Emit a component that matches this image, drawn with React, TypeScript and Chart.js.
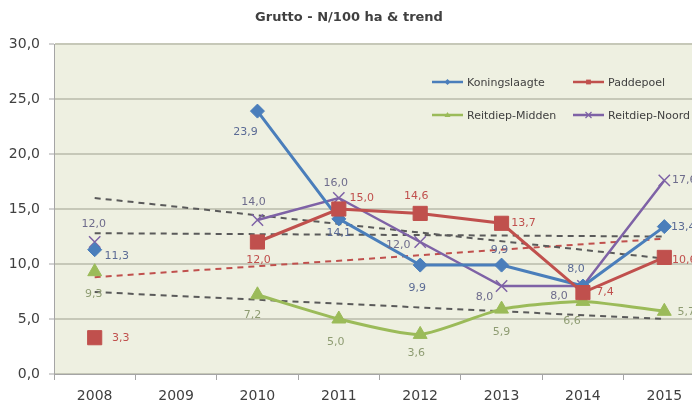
import React, { useEffect, useRef } from "react";
import { Chart, registerables } from "chart.js";

Chart.register(...registerables);

// ---- data ----
const years = ["2008", "2009", "2010", "2011", "2012", "2013", "2014", "2015"];
const yTickValues = [0, 5, 10, 15, 20, 25, 30];

const koningslaagte = [11.3, null, 23.9, 14.1, 9.9, 9.9, 8.0, 13.4];
const paddepoel = [3.3, null, 12.0, 15.0, 14.6, 13.7, 7.4, 10.6];
const reitdiepMidden = [9.3, null, 7.2, 5.0, 3.6, 5.9, 6.6, 5.7];
const reitdiepNoord = [12.0, null, 14.0, 16.0, 12.0, 8.0, 8.0, 17.6];

const trendKoningslaagte = [16.0, null, null, null, null, null, null, 10.5];
const trendPaddepoel = [8.8, null, null, null, null, null, null, 12.3];
const trendReitdiepMidden = [7.45, null, null, null, null, null, null, 5.0];
const trendReitdiepNoord = [12.8, null, null, null, null, null, null, 12.5];

const seriesNames = ["Koningslaagte", "Paddepoel", "Reitdiep-Midden", "Reitdiep-Noord"];
const titleText = "Grutto - N/100 ha & trend";

// ---- styles ----
const FONT = "DejaVu Sans";
const colors = {
  blue: "#4A7EBB",
  red: "#C0504D",
  green: "#9BBB59",
  purple: "#7E62A6",
  trendGray: "#5A5A5A",
};
const labelColors = ["#5B6B95", "#C0504D", "#8E9C72", "#6E6C8C"];
// label offsets relative to each point (dx, dy)
const labelOffsets: Array<Array<[number, number] | null>> = [
  [[22, 6], null, [-12, 21], [0, 14], [-3, 23], [-2, -15], [-7, -17], [19, 1]],
  [[26, 0], null, [1, 18], [23, -11], [-4, -17], [22, 0], [22, 0], [20, 3]],
  [[-1, 22], null, [-5, 20], [-3, 23], [-4, 19], [0, 23], [-11, 20], [22, 1]],
  [[-1, -18], null, [-4, -18], [-3, -15], [-22, 3], [-17, 11], [-24, 10], [20, 0]],
];

const fmt = (v: number) => v.toFixed(1).replace(".", ",");

const bgPlugin = {
  id: "plotBg",
  beforeDraw(chart: any) {
    const { ctx, chartArea } = chart;
    ctx.save();
    ctx.fillStyle = "#EEF0E1";
    ctx.fillRect(chartArea.left, chartArea.top, chartArea.right - chartArea.left + 30, chartArea.bottom - chartArea.top);
    ctx.restore();
  },
};

const labelPlugin = {
  id: "dataLabels",
  afterDatasetsDraw(chart: any) {
    const { ctx } = chart;
    ctx.save();
    ctx.font = `11px "${FONT}"`;
    ctx.textAlign = "center";
    ctx.textBaseline = "middle";
    for (let i = 0; i < 4; i++) {
      const meta = chart.getDatasetMeta(i);
      const ds = chart.data.datasets[i];
      ctx.fillStyle = labelColors[i];
      meta.data.forEach((el: any, j: number) => {
        const v = ds.data[j];
        const off = labelOffsets[i][j];
        if (v == null || !off) return;
        ctx.fillText(fmt(v), el.x + off[0], el.y + off[1]);
      });
    }
    ctx.restore();
  },
};

function drawMarker(ctx: CanvasRenderingContext2D, style: string, x: number, y: number, r: number, color: string) {
  ctx.save();
  ctx.fillStyle = color;
  ctx.strokeStyle = color;
  ctx.beginPath();
  if (style === "rectRot") {
    ctx.moveTo(x, y - r);
    ctx.lineTo(x + r, y);
    ctx.lineTo(x, y + r);
    ctx.lineTo(x - r, y);
    ctx.closePath();
    ctx.fill();
  } else if (style === "rect") {
    ctx.rect(x - r * 0.8, y - r * 0.8, r * 1.6, r * 1.6);
    ctx.fill();
  } else if (style === "triangle") {
    ctx.moveTo(x, y - r);
    ctx.lineTo(x + r, y + r * 0.7);
    ctx.lineTo(x - r, y + r * 0.7);
    ctx.closePath();
    ctx.fill();
  } else {
    ctx.lineWidth = 1.2;
    ctx.moveTo(x - r, y - r);
    ctx.lineTo(x + r, y + r);
    ctx.moveTo(x + r, y - r);
    ctx.lineTo(x - r, y + r);
    ctx.stroke();
  }
  ctx.restore();
}

const legendPlugin = {
  id: "insideLegend",
  afterDraw(chart: any) {
    const { ctx, chartArea } = chart;
    const x0 = chartArea.left + 378;
    const y0 = chartArea.top + 38;
    const colStep = 141;
    const rowStep = 33;
    ctx.save();
    ctx.font = `11px "${FONT}"`;
    ctx.textBaseline = "middle";
    ctx.textAlign = "left";
    for (let i = 0; i < 4; i++) {
      const ds = chart.data.datasets[i];
      const x = x0 + (i % 2) * colStep;
      const y = y0 + Math.floor(i / 2) * rowStep;
      ctx.strokeStyle = ds.borderColor;
      ctx.lineWidth = 2.5;
      ctx.beginPath();
      ctx.moveTo(x, y);
      ctx.lineTo(x + 31, y);
      ctx.stroke();
      drawMarker(ctx, ds.pointStyle, x + 15.5, y, 3, ds.borderColor);
      ctx.fillStyle = "#404040";
      ctx.fillText(ds.label, x + 35, y + 1);
    }
    ctx.restore();
  },
};

export default function App() {
  const ref = useRef<HTMLCanvasElement | null>(null);

  useEffect(() => {
    if (!ref.current) return;
    Chart.defaults.font.family = FONT;
    const seriesBase = {
      spanGaps: false,
      borderWidth: 3,
      pointBorderWidth: 1,
    };
    const trendBase = {
      spanGaps: true,
      borderWidth: 2,
      borderDash: [6, 5],
      pointRadius: 0,
      pointHoverRadius: 0,
      order: 10,
    };
    const chart = new Chart(ref.current, {
      type: "line",
      data: {
        labels: years,
        datasets: [
          {
            ...seriesBase,
            label: seriesNames[0],
            data: koningslaagte,
            borderColor: colors.blue,
            backgroundColor: colors.blue,
            pointStyle: "rectRot",
            pointRadius: 7,
            order: 2,
          },
          {
            ...seriesBase,
            label: seriesNames[1],
            data: paddepoel,
            borderColor: colors.red,
            backgroundColor: colors.red,
            pointStyle: "rect",
            pointRadius: 10,
            order: 1,
          },
          {
            ...seriesBase,
            label: seriesNames[2],
            data: reitdiepMidden,
            borderColor: colors.green,
            backgroundColor: colors.green,
            pointStyle: "triangle",
            pointRadius: 8,
            tension: 0.2,
            order: 4,
          },
          {
            ...seriesBase,
            label: seriesNames[3],
            data: reitdiepNoord,
            borderColor: colors.purple,
            backgroundColor: colors.purple,
            pointStyle: "crossRot",
            pointRadius: 8,
            pointBorderWidth: 1.5,
            borderWidth: 2.5,
            order: 3,
          },
          { ...trendBase, label: "t1", data: trendKoningslaagte, borderColor: colors.trendGray },
          { ...trendBase, label: "t2", data: trendPaddepoel, borderColor: colors.red },
          { ...trendBase, label: "t3", data: trendReitdiepMidden, borderColor: colors.trendGray },
          { ...trendBase, label: "t4", data: trendReitdiepNoord, borderColor: colors.trendGray },
        ],
      },
      options: {
        responsive: false,
        animation: false,
        devicePixelRatio: 1,
        layout: { padding: { left: -15, right: 23, top: 0, bottom: 0 } },
        plugins: {
          legend: { display: false },
          tooltip: { enabled: false },
          title: {
            display: true,
            text: titleText,
            color: "#404040",
            font: { family: FONT, size: 13, weight: "bold" },
            padding: { top: 2, bottom: 18.4 },
          },
        },
        scales: {
          x: {
            offset: true,
            grid: {
              display: true,
              drawOnChartArea: false,
              drawTicks: true,
              tickLength: 6,
              offset: true,
              color: "#A5A5A5",
            },
            border: { color: "#A5A5A5", width: 1 },
            ticks: { color: "#404040", font: { family: FONT, size: 14 }, padding: 8, maxRotation: 0 },
            afterFit(scale: any) {
              scale.height = 34;
            },
          },
          y: {
            min: yTickValues[0],
            max: yTickValues[yTickValues.length - 1],
            afterBuildTicks(scale: any) {
              scale.ticks = yTickValues.map((v) => ({ value: v }));
            },
            grid: {
              color: "#C6C8B8",
              lineWidth: 2,
              tickLength: 5,
              drawTicks: true,
              tickColor: "#A5A5A5",
              tickWidth: 1,
            },
            border: { color: "#A5A5A5", width: 1 },
            ticks: {
              color: "#404040",
              font: { family: FONT, size: 14 },
              padding: 9,
              callback: (v: any) => fmt(Number(v)),
            },
            afterFit(scale: any) {
              scale.width = 61;
            },
          },
        },
      },
      plugins: [bgPlugin, labelPlugin, legendPlugin],
    } as any);
    return () => chart.destroy();
  }, []);

  return (
    <div style={{ width: 692, height: 394, overflow: "hidden", position: "relative" }}>
      <canvas ref={ref} width={720} height={400} style={{ display: "block" }} />
    </div>
  );
}
